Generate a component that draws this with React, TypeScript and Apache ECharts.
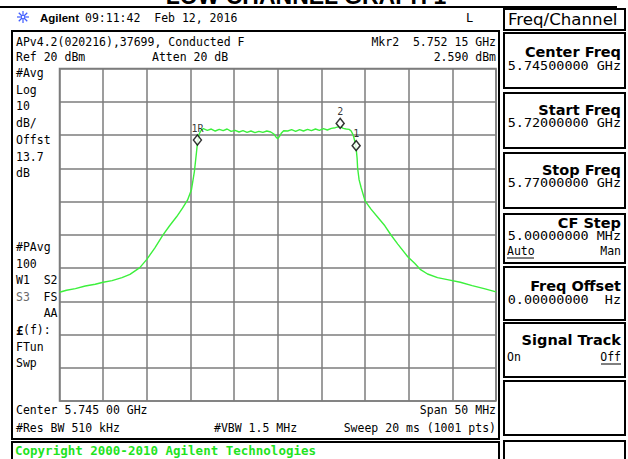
import React, { useEffect, useRef } from "react";
import * as echarts from "echarts";

// Trace: frequency (MHz) and level (dBm)
const FREQ_MHZ = [
  5720.0, 5720.8, 5721.82, 5722.95, 5724.09, 5725.0, 5726.02, 5727.16, 5728.07, 5729.2,
  5730.0, 5730.91, 5731.82, 5732.61, 5733.41, 5734.09, 5734.66, 5735.11, 5735.45, 5735.68,
  5735.8, 5736.02, 5736.25, 5736.48, 5736.93, 5737.39, 5737.84, 5738.3, 5738.75, 5739.2,
  5739.66, 5740.11, 5740.57, 5741.02, 5741.48, 5741.93, 5742.39, 5742.84, 5743.3, 5743.75,
  5744.2, 5744.55, 5744.77, 5745.0, 5745.2, 5745.4, 5745.68, 5746.14, 5746.59, 5747.05,
  5747.5, 5747.95, 5748.41, 5748.86, 5749.32, 5749.77, 5750.23, 5750.68, 5751.14, 5751.59,
  5752.15, 5752.5, 5752.84, 5753.18, 5753.41, 5753.64, 5753.86, 5753.98, 5754.09, 5754.15,
  5754.32, 5754.55, 5755.0, 5755.68, 5756.48, 5757.27, 5757.95, 5758.75, 5759.89, 5760.68,
  5761.36, 5762.16, 5763.3, 5764.43, 5765.91, 5767.27, 5768.64, 5770.0,
];
const LEVEL_DBM = [
  -47.3, -46.7, -46.2, -45.4, -44.9, -44.3, -43.8, -42.9, -41.9, -39.9,
  -37.4, -34.0, -30.2, -27.3, -24.6, -22.0, -19.6, -16.5, -11.0, -5.5,
  -2.4, 0.4, 1.5, 1.9, 1.4, 1.8, 1.2, 1.7, 1.3, 1.8,
  1.1, 1.4, 0.9, 1.3, 0.8, 1.2, 0.7, 1.1, 0.8, 1.2,
  0.9, 0.3, -0.5, -1.1, -0.4, 0.5, 1.3, 1.2, 1.6, 1.1,
  1.6, 1.2, 1.7, 1.3, 1.8, 1.4, 1.9, 1.5, 2.0, 2.2,
  2.59, 2.0, 1.8, 1.7, 1.2, 0.0, -2.2, -4.1, -7.0, -10.0,
  -13.5, -15.8, -19.8, -22.3, -24.8, -27.3, -30.0, -32.8, -36.6, -38.6,
  -40.5, -41.8, -42.9, -43.5, -44.3, -45.3, -46.2, -47.2,
];

const MARKER_NAMES = ["1R", "2", "1"];
const MARKER_FREQ = [5735.8, 5752.15, 5753.98];
const MARKER_LEVEL = [-2.4, 2.59, -4.1];

const START_MHZ = 5720;
const STOP_MHZ = 5770;
const DIV_MHZ = 5;
const REF_DBM = 20;
const BOTTOM_DBM = -80;
const DB_PER_DIV = 10;

const LEFT_LABELS = ["#Avg", "Log", "10", "dB/", "Offst", "13.7", "dB"];
const LEFT_LABELS_2 = ["#PAvg", "100", "W1  S2", "", "    AA", "", "FTun", "Swp"];

const MONO = '"DejaVu Sans Mono", monospace';
const SANS = '"DejaVu Sans", sans-serif';

function txt(
  text: string,
  x: number,
  y: number,
  o: { size?: number; family?: string; weight?: string; align?: string; fill?: string; scaleX?: number } = {}
): any {
  const align = o.align || "left";
  return {
    type: "text",
    x,
    y,
    scaleX: o.scaleX || 1,
    silent: true,
    z: 10,
    style: {
      text,
      fill: o.fill || "#000",
      fontSize: o.size || 11.5,
      fontFamily: o.family || MONO,
      fontWeight: o.weight || "normal",
      align,
      verticalAlign: "middle",
      textAlign: align,
      textVerticalAlign: "middle",
    },
  };
}

function box(x: number, y: number, w: number, h: number, lw = 2): any {
  return {
    type: "rect",
    silent: true,
    z: 9,
    shape: { x, y, width: w, height: h },
    style: { fill: "none", stroke: "#000", lineWidth: lw },
  };
}

function ln(x1: number, y1: number, x2: number, y2: number, color = "#000", lw = 1): any {
  return {
    type: "line",
    silent: true,
    z: 10,
    shape: { x1, y1, x2, y2 },
    style: { stroke: color, lineWidth: lw },
  };
}

export default function App() {
  const ref = useRef<HTMLDivElement>(null);

  useEffect(() => {
    const chart = echarts.init(ref.current!, null, { renderer: "svg" });

    const g: any[] = [];
    // clipped title at top (cut off in the reference too)
    g.push(txt("LOW CHANNEL GRAPH 1", 306, -4, { size: 23, family: '"Liberation Sans", Arial, sans-serif', weight: "bold", align: "center" }));
    g.push(ln(0, 7, 617, 7, "#000", 2));
    // star icon
    const cx = 23, cy = 17, r = 6;
    for (let k = 0; k < 4; k++) {
      const a = (k * Math.PI) / 4;
      g.push(ln(cx - r * Math.cos(a), cy - r * Math.sin(a), cx + r * Math.cos(a), cy + r * Math.sin(a), "#3f5cff", 1.2));
    }
    g.push({ type: "circle", silent: true, z: 11, shape: { cx, cy, r: 1.6 }, style: { fill: "#fff", stroke: "#3f5cff", lineWidth: 1 } });
    g.push(txt("Agilent", 40, 18, { size: 11.5, family: '"Liberation Sans", Arial, sans-serif', weight: "bold" }));
    g.push(txt("09:11:42  Feb 12, 2016", 85, 18));
    g.push(txt("L", 466, 18, { size: 12 }));

    // Freq/Channel header
    g.push(box(504, 9, 121, 21));
    g.push(txt("Freq/Channel", 508, 20, { size: 16, family: SANS, scaleX: 1.04 }));

    // display frame
    g.push(box(12, 31, 487, 408));
    g.push(box(12, 442, 487, 30));
    g.push(txt("Copyright 2000-2010 Agilent Technologies", 15, 450, { size: 12.5, weight: "bold", fill: "#1fe31f" }));

    g.push(txt("APv4.2(020216),37699, Conducted F", 16, 42));
    g.push(txt("Mkr2  5.752 15 GHz", 496, 42, { align: "right" }));
    g.push(txt("Ref 20 dBm", 16, 57));
    g.push(txt("Atten 20 dB", 152, 57));
    g.push(txt("2.590 dBm", 496, 57, { align: "right" }));

    LEFT_LABELS.forEach((s, i) => g.push(txt(s, 16, 73 + i * 16.7)));
    LEFT_LABELS_2.forEach((s, i) => {
      if (s) g.push(txt(s, 16, 247 + i * 16.6));
    });
    g.push(txt("S3", 16, 247 + 3 * 16.6, { fill: "#6a6a6a" }));
    g.push(txt("FS", 43.6, 247 + 3 * 16.6));
    g.push(txt("£", 16, 247 + 5 * 16.6, { weight: "bold", size: 12.5 }));
    g.push(txt("(f):", 23, 247 + 5 * 16.6));

    g.push(txt("Center 5.745 00 GHz", 16, 410));
    g.push(txt("Span 50 MHz", 496, 410, { align: "right" }));
    g.push(txt("#Res BW 510 kHz", 16, 428));
    g.push(txt("#VBW 1.5 MHz", 214, 428));
    g.push(txt("Sweep 20 ms (1001 pts)", 496, 428, { align: "right" }));

    // softkeys
    const keys: [number, number][] = [
      [33, 55], [93, 55], [153, 55], [214, 49], [267, 53], [323, 54], [381, 54], [441, 40],
    ];
    keys.forEach(([y, h]) => g.push(box(504, y, 121, h)));
    const LBL = { size: 14.5, family: SANS, weight: "bold", align: "right" };
    const VAL = { size: 12, align: "right", scaleX: 1.12 };
    g.push(txt("Center Freq", 621, 52, LBL));
    g.push(txt("5.74500000 GHz", 621, 66, VAL));
    g.push(txt("Start Freq", 621, 110, LBL));
    g.push(txt("5.72000000 GHz", 621, 123, VAL));
    g.push(txt("Stop Freq", 621, 170, LBL));
    g.push(txt("5.77000000 GHz", 621, 183, VAL));
    g.push(txt("CF Step", 621, 223, LBL));
    g.push(txt("5.00000000 MHz", 621, 236, VAL));
    g.push(txt("Auto", 507, 251));
    g.push(ln(507, 258, 534, 258, "#000", 1));
    g.push(txt("Man", 621, 251, { align: "right" }));
    g.push(txt("Freq Offset", 621, 286, LBL));
    g.push(txt("0.00000000  Hz", 621, 300, VAL));
    g.push(txt("Signal Track", 621, 340, LBL));
    g.push(txt("On", 507, 357));
    g.push(txt("Off", 621, 357, { align: "right" }));
    g.push(ln(601, 364, 621, 364, "#000", 1));

    const gridColor = "#7d7d7d";

    chart.setOption({
      animation: false,
      backgroundColor: "#fff",
      grid: {
        left: 59.5,
        top: 68.5,
        width: 436.5,
        height: 332.5,
        show: true,
        borderColor: gridColor,
        borderWidth: 1.5,
        containLabel: false,
      },
      xAxis: {
        type: "value",
        min: START_MHZ,
        max: STOP_MHZ,
        interval: DIV_MHZ,
        axisLine: { show: false },
        axisTick: { show: false },
        axisLabel: { show: false },
        splitLine: { show: true, lineStyle: { color: gridColor, width: 1.5 } },
      },
      yAxis: {
        type: "value",
        min: BOTTOM_DBM,
        max: REF_DBM,
        interval: DB_PER_DIV,
        axisLine: { show: false },
        axisTick: { show: false },
        axisLabel: { show: false },
        splitLine: { show: true, lineStyle: { color: gridColor, width: 1.5 } },
      },
      series: [
        {
          type: "line",
          data: FREQ_MHZ.map((f, i) => [f, LEVEL_DBM[i]]),
          showSymbol: false,
          symbol: "none",
          lineStyle: { color: "#3cf03c", width: 1.4 },
          z: 3,
        },
        {
          type: "scatter",
          data: MARKER_FREQ.map((f, i) => ({ name: MARKER_NAMES[i], value: [f, MARKER_LEVEL[i]] })),
          symbol: "diamond",
          symbolSize: [8, 10],
          symbolOffset: [0, -3],
          itemStyle: { color: "#fff", borderColor: "#000", borderWidth: 1.5 },
          label: {
            show: true,
            position: "top",
            distance: 1,
            formatter: (p: any) => p.name,
            fontSize: 10,
            fontFamily: MONO,
            color: "#000",
          },
          z: 5,
        },
      ],
      graphic: { elements: g },
    });

    return () => chart.dispose();
  }, []);

  return (
    <div
      ref={ref}
      style={{ position: "fixed", left: 0, top: 0, width: 628, height: 459, background: "#fff" }}
    />
  );
}
